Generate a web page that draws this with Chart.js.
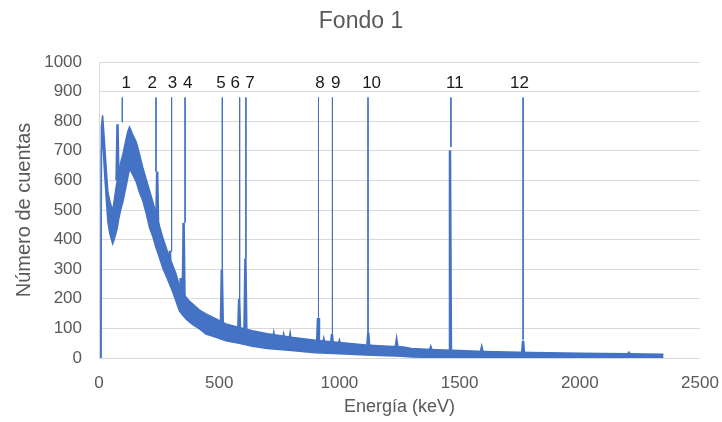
<!DOCTYPE html>
<html>
<head>
<meta charset="utf-8">
<script src="https://cdn.jsdelivr.net/npm/chart.js@4.4.1/dist/chart.umd.min.js"></script>
<style>
  html, body { margin: 0; padding: 0; background: #ffffff; }
  #wrap { width: 722px; height: 422px; }
</style>
</head>
<body>
<div id="wrap"><canvas id="c" width="722" height="422"></canvas></div>
<script>
// ---- Data ----
// Continuum band (noisy spectrum envelope): energy in keV, upper and lower counts
const energyKeV   = [8, 10, 15, 22, 30, 37, 45, 52, 57, 63, 70, 76, 82, 90, 100, 110, 120, 127, 140, 155, 168, 182, 196, 210, 224, 237, 251, 265, 279, 293, 307, 320, 334, 348, 362, 376, 390, 418, 445, 487, 528, 583, 638, 700, 800, 900, 1000, 1110, 1200, 1260, 1300, 1400, 1500, 1600, 1800, 2000, 2200, 2348];
const upperCounts = [0, 780, 820, 740, 640, 560, 530, 510, 500, 530, 570, 600, 630, 660, 690, 730, 765, 780, 755, 730, 690, 644, 605, 566, 527, 488, 447, 407, 373, 339, 312, 285, 245, 225, 205, 192, 182, 162, 149, 132, 115, 103, 92, 82, 70, 60, 52, 44, 40, 38, 32, 28, 25, 22, 19, 16, 14, 13];
const lowerCounts = [0, 700, 740, 640, 540, 460, 420, 400, 386, 400, 420, 440, 470, 500, 530, 570, 610, 640, 620, 595, 560, 532, 490, 441, 410, 373, 340, 305, 278, 251, 222, 193, 160, 145, 132, 122, 113, 98, 81, 70, 58, 50, 40, 32, 25, 18, 14, 10, 8, 6, 3, 2, 1, 0, 0, 0, 0, 0];

// Photopeaks: energy (keV), top counts, counts at the foot of the peak
const peakKeV    = [77, 242, 295, 340, 352, 511, 583, 609, 727, 768, 795, 911, 935, 969, 1000, 1120, 1238, 1380, 1460, 1592, 1764, 1850, 2204];
const peakCounts = [790, 630, 362, 270, 457, 298, 200, 335, 78, 74, 76, 135, 60, 81, 55, 85, 58, 35, 702, 34, 58, 16, 17];
const peakBase   = [600, 440, 270, 200, 190, 110, 90, 85, 60, 58, 56, 48, 45, 45, 44, 40, 36, 25, 24, 20, 18, 14, 12];

// Numbered annotations: label text, label energy, pointer line energy and its lower end
const labelText = ["1", "2", "3", "4", "5", "6", "7", "8", "9", "10", "11", "12"];
const labelKeV  = [113, 221, 306, 369, 507, 567, 628, 919, 985, 1134, 1480, 1749];
const lineKeV   = [97, 237, 302, 358, 513, 585, 611, 913, 971, 1119, 1464, 1764];
const lineEnd   = [797, 630, 360, 457, 298, 200, 335, 135, 81, 85, 713, 62];
const lineTop   = 880;
const labelLevel = 929;

// Tick values
const xTicks = [0, 500, 1000, 1500, 2000, 2500];
const yTicks = [0, 100, 200, 300, 400, 500, 600, 700, 800, 900, 1000];

const BLUE = '#4472C4';
const FONT = '"Liberation Sans", Arial, sans-serif';

// ---- Build datasets ----
const upperPts = energyKeV.map((e, i) => ({ x: e, y: upperCounts[i] }));
const lowerPts = energyKeV.map((e, i) => ({ x: e, y: lowerCounts[i] }));
const peakPts = [];
peakKeV.forEach((e, i) => {
  peakPts.push({ x: e - 4, y: peakBase[i] });
  peakPts.push({ x: e, y: peakCounts[i] });
  peakPts.push({ x: e + 4, y: peakBase[i] });
  peakPts.push({ x: e + 4, y: null });
});
const linePts = [];
lineKeV.forEach((e, i) => {
  linePts.push({ x: e, y: lineTop });
  linePts.push({ x: e, y: lineEnd[i] });
  linePts.push({ x: e, y: null });
});

const labelsPlugin = {
  id: 'peakLabels',
  afterDatasetsDraw(chart) {
    const { ctx, scales } = chart;
    ctx.save();
    ctx.fillStyle = '#1a1a1a';
    ctx.font = '17px ' + FONT;
    ctx.textAlign = 'center';
    ctx.textBaseline = 'middle';
    labelText.forEach((t, i) => {
      ctx.fillText(t, scales.x.getPixelForValue(labelKeV[i]), scales.y.getPixelForValue(labelLevel));
    });
    ctx.restore();
  }
};

const titlePlugin = {
  id: 'centeredTitle',
  afterDraw(chart) {
    const ctx = chart.ctx;
    ctx.save();
    ctx.fillStyle = '#595959';
    ctx.font = '23px ' + FONT;
    ctx.textAlign = 'center';
    ctx.textBaseline = 'middle';
    ctx.fillText('Fondo 1', chart.width / 2, 22);
    ctx.restore();
  }
};

new Chart(document.getElementById('c'), {
  type: 'line',
  data: {
    datasets: [
      { data: upperPts, borderColor: BLUE, borderWidth: 1.5, pointRadius: 0, fill: false, tension: 0 },
      { data: lowerPts, borderColor: BLUE, borderWidth: 1.5, pointRadius: 0, fill: '-1', backgroundColor: BLUE, tension: 0 },
      { data: peakPts, borderColor: BLUE, borderWidth: 2.5, pointRadius: 0, fill: false, spanGaps: false, tension: 0 },
      { data: linePts, borderColor: BLUE, borderWidth: 1, pointRadius: 0, fill: false, spanGaps: false, tension: 0 }
    ]
  },
  options: {
    responsive: false,
    animation: false,
    events: [],
    layout: { padding: { left: 0, right: 22, top: 62, bottom: 0 } },
    plugins: {
      legend: { display: false },
      tooltip: { enabled: false },
      title: { display: false }
    },
    scales: {
      x: {
        type: 'linear',
        min: 0, max: 2500,
        afterBuildTicks(scale) { scale.ticks = xTicks.map(v => ({ value: v })); },
        afterFit(scale) { scale.height = 64; scale.paddingLeft = 0; scale.paddingRight = 0; },
        grid: { display: false },
        border: { display: false },
        ticks: { color: '#595959', font: { family: FONT, size: 17 }, padding: 7, maxRotation: 0, callback: v => String(v) },
        title: { display: true, text: 'Energía (keV)', color: '#595959', font: { family: FONT, size: 18 }, padding: { top: 7 } }
      },
      y: {
        min: 0, max: 1000,
        afterBuildTicks(scale) { scale.ticks = yTicks.map(v => ({ value: v })); },
        afterFit(scale) { scale.width = 99; scale.paddingTop = 0; scale.paddingBottom = 0; },
        grid: { color: '#d9d9d9', drawTicks: false, lineWidth: 1 },
        border: { display: true, color: '#d9d9d9' },
        ticks: { color: '#595959', font: { family: FONT, size: 17 }, padding: 17, callback: v => String(v) },
        title: { display: true, text: 'Número de cuentas', color: '#595959', font: { family: FONT, size: 20 }, padding: { top: 12, bottom: 0 } }
      }
    }
  },
  plugins: [labelsPlugin, titlePlugin]
});
</script>
</body>
</html>
